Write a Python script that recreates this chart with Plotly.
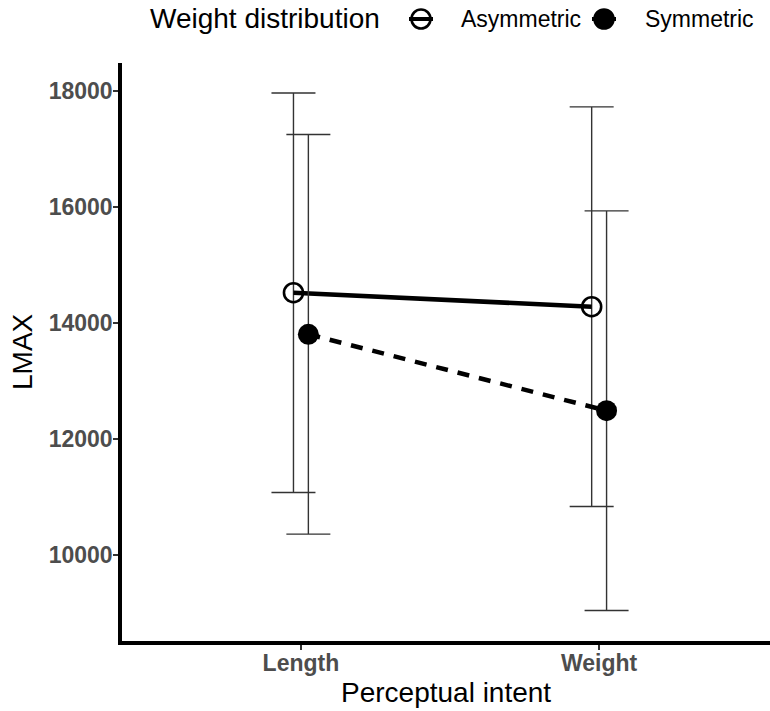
import plotly.graph_objects as go

# ---- data -------------------------------------------------------------
intents = ["Length", "Weight"]
groups = ["Asymmetric", "Symmetric"]

asym_mean = [14522, 14281]
asym_err = [3445, 3446]
sym_mean = [13805, 12488]
sym_err = [3445, 3446]

y_ticks = [10000, 12000, 14000, 16000, 18000]
y_tick_labels = ["10000", "12000", "14000", "16000", "18000"]

# ---- geometry / style -------------------------------------------------
W, H = 770, 711
M_L, M_R, M_T, M_B = 122, 0, 63, 70
DODGE = 0.025
FONT = "Liberation Sans, Arial, sans-serif"

pw = W - M_L - M_R
ph = H - M_T - M_B


def px_x(px):
    return (px - M_L) / pw


def px_y(py):
    return (H - M_B - py) / ph


cat_pos = list(range(1, len(intents) + 1))
asym_x = [c - DODGE for c in cat_pos]
sym_x = [c + DODGE for c in cat_pos]

fig = go.Figure()

err_style = dict(type="data", symmetric=True, color="#333333",
                 thickness=1.4, width=22)

fig.add_trace(go.Scatter(
    x=asym_x, y=asym_mean, name=groups[0], mode="lines+markers",
    line=dict(color="black", width=4.5),
    marker=dict(symbol="circle-open", size=19, color="black",
                line=dict(width=2.6, color="black")),
    error_y=dict(array=asym_err, **err_style),
    showlegend=False,
))
fig.add_trace(go.Scatter(
    x=sym_x, y=sym_mean, name=groups[1], mode="lines+markers",
    line=dict(color="black", width=4.5, dash="12px,10px"),
    marker=dict(symbol="circle", size=21, color="black"),
    error_y=dict(array=sym_err, **err_style),
    showlegend=False,
))

# ---- legend (drawn above the panel) ------------------------------------
leg_y = 19
shapes = []
annotations = []
annotations.append(dict(
    text="Weight distribution", x=px_x(148), y=px_y(leg_y),
    xref="paper", yref="paper", xanchor="left", yanchor="middle",
    showarrow=False, font=dict(family=FONT, size=28, color="black")))

keys = [(421, 459, groups[0], False), (604, 643, groups[1], True)]
for cx, tx, label, filled in keys:
    shapes.append(dict(
        type="line", xref="paper", yref="paper",
        xsizemode="pixel", ysizemode="pixel",
        xanchor=px_x(cx), yanchor=px_y(leg_y),
        x0=-12, x1=12, y0=0, y1=0,
        line=dict(color="black", width=4)))
    shapes.append(dict(
        type="circle", xref="paper", yref="paper",
        xsizemode="pixel", ysizemode="pixel",
        xanchor=px_x(cx), yanchor=px_y(leg_y),
        x0=-9.5, x1=9.5, y0=-9.5, y1=9.5,
        fillcolor="black" if filled else "rgba(0,0,0,0)",
        line=dict(color="black", width=2.6)))
    annotations.append(dict(
        text=label, x=px_x(tx), y=px_y(leg_y),
        xref="paper", yref="paper", xanchor="left", yanchor="middle",
        showarrow=False, font=dict(family=FONT, size=23, color="black")))

# axis titles
annotations.append(dict(
    text="Perceptual intent", x=0.5, y=px_y(692),
    xref="paper", yref="paper", xanchor="center", yanchor="middle",
    showarrow=False, font=dict(family=FONT, size=28, color="black")))
annotations.append(dict(
    text="LMAX", x=px_x(22), y=0.5, textangle=-90,
    xref="paper", yref="paper", xanchor="center", yanchor="middle",
    showarrow=False, font=dict(family=FONT, size=28, color="black")))

tick_font = dict(family=FONT, size=23, color="#4D4D4D", weight="bold")

fig.update_layout(
    width=W, height=H,
    margin=dict(l=M_L, r=M_R, t=M_T, b=M_B, pad=0),
    paper_bgcolor="white", plot_bgcolor="white",
    showlegend=False,
    shapes=shapes, annotations=annotations,
    xaxis=dict(
        range=[0.4, 0.4 + pw / 298.2], tickmode="array",
        tickvals=cat_pos, ticktext=intents,
        showgrid=False, zeroline=False,
        showline=True, linecolor="black", linewidth=3.5,
        ticks="outside", ticklen=5, tickwidth=1.5, tickcolor="#333333",
        tickfont=tick_font, ticklabelstandoff=-6,
    ),
    yaxis=dict(
        range=[8517, 18483], tickmode="array", tickvals=y_ticks,
        ticktext=y_tick_labels,
        showgrid=False, zeroline=False,
        showline=True, linecolor="black", linewidth=3.5,
        ticks="outside", ticklen=5, tickwidth=1.5, tickcolor="#333333",
        tickfont=tick_font, ticklabelstandoff=-4,
    ),
)

fig.write_html("out.html")
